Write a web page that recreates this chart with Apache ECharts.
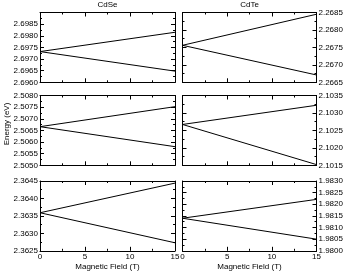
<!DOCTYPE html>
<html><head><meta charset="utf-8">
<script src="https://cdn.jsdelivr.net/npm/echarts@6/dist/echarts.min.js"></script>
<style>html,body{margin:0;padding:0;background:#fff}#c{width:346px;height:272px}</style>
</head><body><div id="c"></div>
<script>
const fieldT = [0, 15];
const xTicks = [0, 5, 10, 15];
const materials = ['CdSe', 'CdTe'];

const cdseTopUp   = [2.69732, 2.69815];
const cdseTopDown = [2.69732, 2.69648];
const cdseMidUp   = [2.50666, 2.50752];
const cdseMidDown = [2.50666, 2.50580];
const cdseBotUp   = [2.36359, 2.36444];
const cdseBotDown = [2.36359, 2.36273];

const cdteTopUp   = [2.26756, 2.26845];
const cdteTopDown = [2.26756, 2.26671];
const cdteMidUp   = [2.10267, 2.10322];
const cdteMidDown = [2.10267, 2.10152];
const cdteBotUp   = [1.98140, 1.98221];
const cdteBotDown = [1.98140, 1.98050];

// y ranges [min, max] per panel
const cdseRanges = [[2.6960, 2.6990], [2.5050, 2.5080], [2.3625, 2.3645]];
const cdteRanges = [[2.2665, 2.2685], [2.1015, 2.1035], [1.9800, 1.9830]];
const yStep = 0.0005;

const FONT = "'Liberation Sans', Arial, sans-serif";
const FS = 8;

const panels = [
  {col:0,row:0,r:cdseRanges[0],up:cdseTopUp,down:cdseTopDown,hideMax:true},
  {col:0,row:1,r:cdseRanges[1],up:cdseMidUp,down:cdseMidDown},
  {col:0,row:2,r:cdseRanges[2],up:cdseBotUp,down:cdseBotDown},
  {col:1,row:0,r:cdteRanges[0],up:cdteTopUp,down:cdteTopDown},
  {col:1,row:1,r:cdteRanges[1],up:cdteMidUp,down:cdteMidDown},
  {col:1,row:2,r:cdteRanges[2],up:cdteBotUp,down:cdteBotDown}
];
const colLeft = [40, 182.5], colW = [135, 134];
const rowTop = [12.5, 95.5, 181], rowH = 69.8;

const grid = [], xAxis = [], yAxis = [], series = [];
panels.forEach((p, i) => {
  grid.push({left: colLeft[p.col], top: rowTop[p.row], width: colW[p.col], height: rowH, show:false, containLabel:false});
  const bottomRow = p.row === 2;
  ['bottom','top'].forEach((pos, k) => {
    xAxis.push({
      gridIndex: i, type:'value', position: pos, min: xTicks[0], max: xTicks[xTicks.length-1], interval: 5,
      axisLine:{show:true, onZero:false, lineStyle:{color:'#000', width:1}},
      axisTick:{show:true, inside:true, length:4, lineStyle:{color:'#000'}},
      minorTick:{show:true, splitNumber:2, length:2, lineStyle:{color:'#000'}},
      splitLine:{show:false},
      axisLabel:{show: bottomRow && k===0, margin:2, color:'#000', fontFamily:FONT, fontSize:FS},
      name: (bottomRow && k===0) ? 'Magnetic Field (T)' : '',
      nameLocation:'middle', nameGap:12,
      nameTextStyle:{color:'#000', fontFamily:FONT, fontSize:FS}
    });
  });
  const labelSide = p.col === 0 ? 'left' : 'right';
  ['left','right'].forEach((pos) => {
    const lab = pos === labelSide;
    yAxis.push({
      gridIndex: i, type:'value', position: pos, min: p.r[0], max: p.r[1], interval: yStep,
      axisLine:{show:true, onZero:false, lineStyle:{color:'#000', width:1}},
      axisTick:{show:true, inside:true, length:4, lineStyle:{color:'#000'}},
      minorTick:{show:true, splitNumber:2, length:2, lineStyle:{color:'#000'}},
      splitLine:{show:false},
      axisLabel:{show: lab, margin: 2, color:'#000', fontFamily:FONT, fontSize:FS,
        showMaxLabel: !p.hideMax, formatter: v => v.toFixed(4)}
    });
  });
  [p.up, p.down].forEach(vals => {
    series.push({
      type:'line', xAxisIndex: i*2, yAxisIndex: i*2, symbol:'none', silent:true,
      lineStyle:{color:'#000', width:1}, animation:false,
      data: fieldT.map((x, j) => [x, vals[j]])
    });
  });
});

const chart = echarts.init(document.getElementById('c'), null, {renderer:'canvas'});
chart.setOption({
  backgroundColor:'#fff',
  animation:false,
  title: materials.map((m, c) => ({
    text: m, left: colLeft[c] + colW[c]/2, top: 1, padding: 0, textAlign:'center',
    textStyle:{color:'#000', fontFamily:FONT, fontSize:FS, fontWeight:'normal'}
  })),
  graphic: [{
    type:'text', x: 7, y: 124, rotation: Math.PI/2,
    style:{text:'Energy (eV)', fill:'#000', font: FS + 'px ' + FONT, align:'center', verticalAlign:'middle'}
  }],
  grid, xAxis, yAxis, series
});
</script></body></html>
